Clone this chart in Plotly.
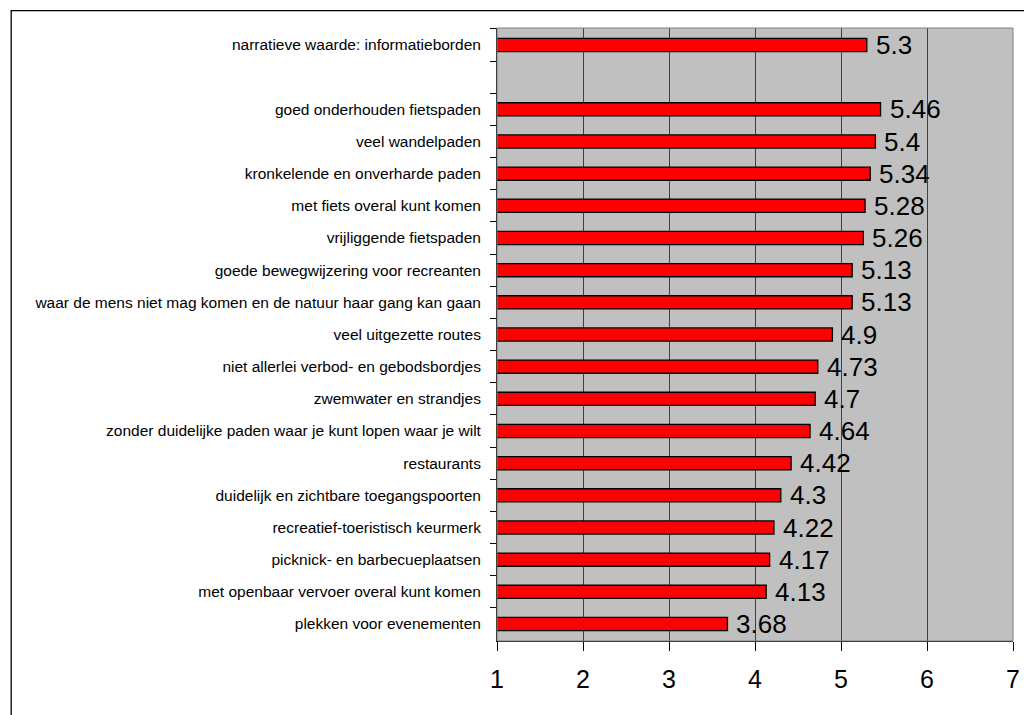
import plotly.graph_objects as go

categories = [
    "narratieve waarde: informatieborden",
    " ",
    "goed onderhouden fietspaden",
    "veel wandelpaden",
    "kronkelende en onverharde paden",
    "met fiets overal kunt komen",
    "vrijliggende fietspaden",
    "goede bewegwijzering voor recreanten",
    "waar de mens niet mag komen en de natuur haar gang kan gaan",
    "veel uitgezette routes",
    "niet allerlei verbod- en gebodsbordjes",
    "zwemwater en strandjes",
    "zonder duidelijke paden waar je kunt lopen waar je wilt",
    "restaurants",
    "duidelijk en zichtbare toegangspoorten",
    "recreatief-toeristisch keurmerk",
    "picknick- en barbecueplaatsen",
    "met openbaar vervoer overal kunt komen",
    "plekken voor evenementen",
]
values = [5.3, None, 5.46, 5.4, 5.34, 5.28, 5.26, 5.13, 5.13, 4.9, 4.73, 4.7,
          4.64, 4.42, 4.3, 4.22, 4.17, 4.13, 3.68]
value_labels = ["5.3", "", "5.46", "5.4", "5.34", "5.28", "5.26", "5.13", "5.13",
                "4.9", "4.73", "4.7", "4.64", "4.42", "4.3", "4.22", "4.17",
                "4.13", "3.68"]
x_ticks = [1, 2, 3, 4, 5, 6, 7]

FONT = "Liberation Sans, Arial, sans-serif"

fig = go.Figure()
fig.add_trace(go.Bar(
    y=categories, x=values, orientation="h",
    marker=dict(color="#FF0000", line=dict(color="#000000", width=1.3)),
    width=0.41, showlegend=False, hoverinfo="skip",
))

for c, v, t in zip(categories, values, value_labels):
    if v is None:
        continue
    fig.add_annotation(x=v, y=c, xref="x", yref="y", text=t, showarrow=False,
                       xanchor="left", yanchor="middle", xshift=7,
                       font=dict(family=FONT, size=26, color="#000000"))

# page has an 8px body margin; figure origin is at (8, 8)
fig.update_layout(
    width=1024, height=707,
    margin=dict(l=489, r=16, t=19.5, b=74, pad=0),
    paper_bgcolor="#FFFFFF", plot_bgcolor="#C0C0C0",
    font=dict(family=FONT, color="#000000"),
    shapes=[dict(type="rect", xref="paper", yref="paper",
                 x0=-0.9415, x1=1.2, y0=-0.3, y1=1.0285,
                 line=dict(color="#000000", width=1.3), layer="below"),
            dict(type="rect", xref="paper", yref="paper",
                 x0=0, x1=1, y0=0, y1=1,
                 line=dict(color="#808080", width=1), layer="above")],
)
fig.update_xaxes(
    range=[1, 7], tickvals=x_ticks, ticktext=[str(v) for v in x_ticks],
    showgrid=True, gridcolor="#404040", gridwidth=1,
    showline=True, linecolor="#000000", linewidth=1,
    ticks="outside", ticklen=9, tickcolor="#000000", tickwidth=1,
    tickfont=dict(family=FONT, size=25, color="#000000"),
    ticklabelstandoff=7, zeroline=False, fixedrange=True,
)
fig.update_yaxes(
    categoryorder="array", categoryarray=categories, autorange="reversed",
    showgrid=False, showline=True, linecolor="#000000", linewidth=1,
    ticks="outside", ticklen=6, tickcolor="#000000", tickson="boundaries",
    tickfont=dict(family=FONT, size=15.5, color="#000000"),
    ticklabelstandoff=12, fixedrange=True,
)

fig.write_html("out.html")
